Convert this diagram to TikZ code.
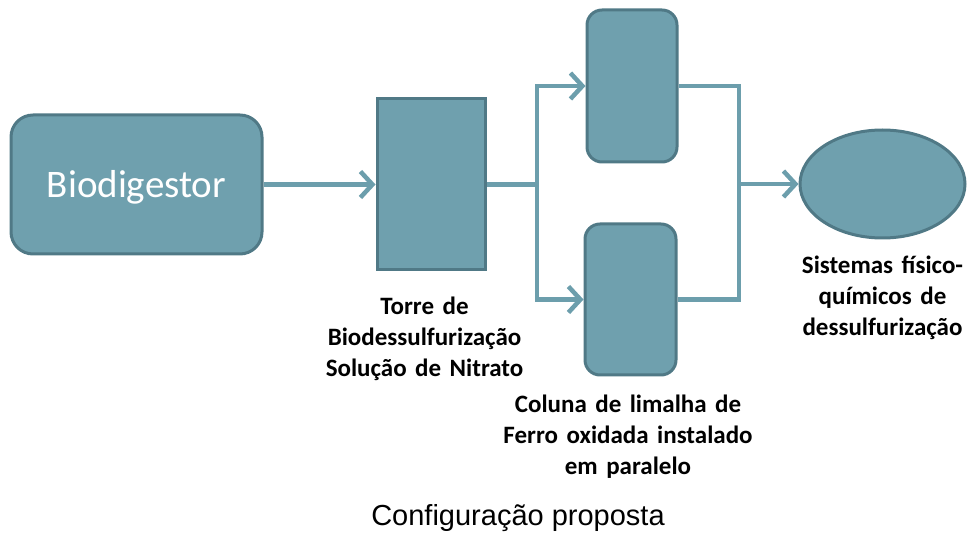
\documentclass[tikz,border=0pt]{standalone}
\usepackage{fontspec}
\setmainfont{Carlito}
\newfontfamily\arialfont{Liberation Sans}
\usetikzlibrary{arrows.meta,shapes.geometric}
\definecolor{boxfill}{RGB}{111,160,174}
\definecolor{boxline}{RGB}{80,121,134}
\definecolor{flow}{RGB}{108,158,172}
\newcommand\lblwidespace{\spaceskip=0.34em\relax}
\tikzset{
  unit/.style={draw=boxline, line width=3pt, fill=boxfill, inner sep=0pt},
  flowline/.style={draw=flow, line width=4.5pt},
  flowarrow/.style={flowline, -{Straight Barb[length=12pt,width=26pt,line width=4.5pt]}},
  lbl/.style={font=\fontsize{25}{31}\selectfont\bfseries, align=center, inner sep=0pt, text=black,
              execute at begin node=\lblwidespace}
}
\begin{document}
\begin{tikzpicture}[x=1pt,y=-1pt]
\useasboundingbox (0,0) rectangle (969,534);
% units
\node[unit, rounded corners=22pt, minimum width=251pt, minimum height=139pt,
      text=white, font=\fontsize{39}{45}\selectfont, text depth=2pt] (bio) at (136.5,184.5) {Biodigestor};
\node[unit, minimum width=108pt, minimum height=171pt] (torre) at (431,184.5) {};
\node[unit, rounded corners=15pt, minimum width=90pt, minimum height=152pt] (up) at (632,86) {};
\node[unit, rounded corners=15pt, minimum width=91pt, minimum height=151pt] (low) at (630.5,299.5) {};
\node[unit, ellipse, minimum width=165pt, minimum height=108pt] (sis) at (882.5,184) {};
% junctions
\coordinate (split) at (537,184.5);
\coordinate (join) at (739,184);
% connectors
\draw[flowarrow] (bio.east) -- (torre.west);
\draw[flowline] (torre.east) -- (split);
\draw[flowarrow] (split) |- (up.west);
\draw[flowarrow] (split) |- (low.west);
\draw[flowline] (up.east) -| (join);
\draw[flowline] (low.east) -| (join);
\draw[flowarrow] (join) -- (sis.west);
% labels
\node[lbl] (ltorre) at (424.5,339) {Torre de\\Biodessulfurização\\Solução de Nitrato};
\node[lbl] (lcol) at (628,437) {Coluna de limalha de\\Ferro oxidada instalado\\em paralelo};
\node[lbl] (lsis) at (882.5,298) {Sistemas físico-\\químicos de\\dessulfurização};
\node[font=\arialfont\fontsize{29}{34}\selectfont, inner sep=0pt] (cap) at (518,518) {Configuração proposta};
\end{tikzpicture}
\end{document}
